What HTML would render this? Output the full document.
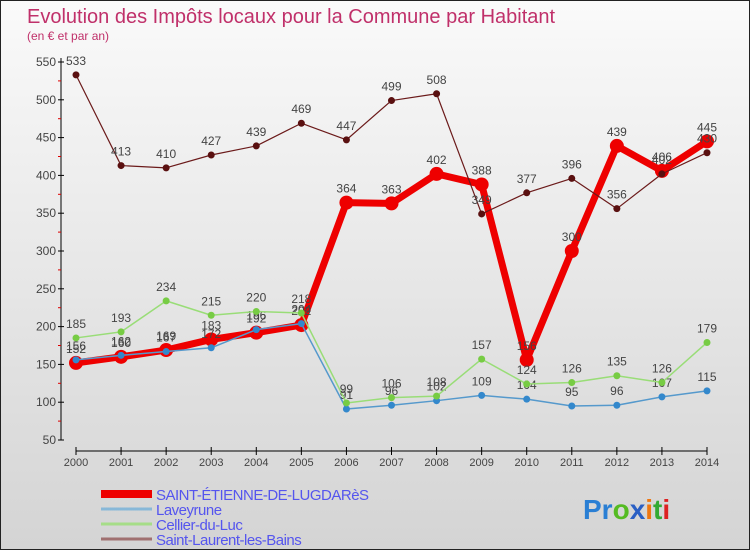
<!DOCTYPE html>
<html><head><meta charset="utf-8"><style>
body{margin:0;width:750px;height:550px;overflow:hidden;font-family:"Liberation Sans",sans-serif}
#wrap{position:absolute;left:0;top:0;width:748px;height:548px;border:1px solid #222;background:linear-gradient(#fafafa,#d4d4d4)}
</style></head><body>
<div id="wrap">
<svg id="c" width="750" height="550" style="position:absolute;left:0;top:0">
<text x="26" y="22" font-size="20" fill="#c0306a">Evolution des Impôts locaux pour la Commune par Habitant</text>
<text x="26" y="39" font-size="12" fill="#c0306a">(en € et par an)</text>
<g id="axes"></g><g id="series"></g><g id="legend"></g>
<text x="582" y="518" font-size="28" font-weight="bold"><tspan fill="#2a7fd4">Pr</tspan><tspan fill="#55bb22">o</tspan><tspan fill="#2a5fc4">x</tspan><tspan fill="#ee7711">i</tspan><tspan fill="#33aa33">t</tspan><tspan fill="#dd2222">i</tspan></text>
</svg></div>
<script>
const years=[2000,2001,2002,2003,2004,2005,2006,2007,2008,2009,2010,2011,2012,2013,2014];
const yTicks=[50,100,150,200,250,300,350,400,450,500,550];
const stEtienne=[152,160,169,183,192,202,364,363,402,388,156,300,439,406,445];
const laveyrune=[156,162,167,172,196,204,91,96,102,109,104,95,96,107,115];
const cellier=[185,193,234,215,220,218,99,106,108,157,124,126,135,126,179];
const stLaurent=[533,413,410,427,439,469,447,499,508,349,377,396,356,402,430];
const names=["SAINT-ÉTIENNE-DE-LUGDARèS","Laveyrune","Cellier-du-Luc","Saint-Laurent-les-Bains"];
const NS="http://www.w3.org/2000/svg";
const X=i=>75+i*(631/14), Y=v=>439-(v-50)*0.756;
function mk(tag,at,par){const e=document.createElementNS(NS,tag);for(const k in at)e.setAttribute(k,at[k]);par.appendChild(e);return e;}
const ax=document.getElementById('axes');
let e=mk('line',{x1:60,y1:57,x2:60,y2:439,stroke:'#000'},ax);


for(let v=75;v<550;v+=50){mk('line',{x1:57,x2:60,y1:Y(v),y2:Y(v),stroke:'#d00'},ax);}
yTicks.forEach(v=>{mk('line',{x1:57,x2:63,y1:Y(v),y2:Y(v),stroke:'#000'},ax);
 const t=mk('text',{x:55,y:Y(v)+4,'text-anchor':'end','font-size':12,fill:'#444'},ax);t.textContent=v;
 
 });
e=mk('line',{x1:75,y1:450,x2:706,y2:450,stroke:'#000'},ax);


years.forEach((y,i)=>{mk('line',{x1:X(i),x2:X(i),y1:446,y2:454,stroke:'#000'},ax);
 const t=mk('text',{x:X(i),y:465,'text-anchor':'middle','font-size':11,fill:'#444'},ax);t.textContent=y;
 
 });
const sg=document.getElementById('series');
const defs=[[stEtienne,'#ee0000',7,7,'#ee0000'],[laveyrune,'#5599cc',1.5,3.5,'#3388cc'],[cellier,'#99dd77',1.5,3.5,'#77cc44'],[stLaurent,'#6b1a1a',1.2,3.5,'#5a1010']];
const keys=['saint-etienne','laveyrune','cellier','saint-laurent'];
defs.forEach(([d,col,w,r,pc],k)=>{
 const g=mk('g',{},sg);
 
 
 mk('polyline',{points:d.map((v,i)=>X(i)+','+Y(v)).join(' '),fill:'none',stroke:col,'stroke-width':w,'stroke-linejoin':'round'},g);
 d.forEach((v,i)=>{const c=mk('circle',{cx:X(i),cy:Y(v),r:r,fill:pc},g);
  
  
  const t=mk('text',{x:X(i),y:Y(v)-10,'text-anchor':'middle','font-size':12,fill:'#444'},g);t.textContent=v;
  
  });
});
const lg=document.getElementById('legend');
const lc=['#ee0000','#88b8d8','#a6dd88','#a07070'],lw=[8,3,3,3];
names.forEach((n,i)=>{const y=493+i*15;
 const g=mk('g',{},lg);
 
 
 mk('line',{x1:100,x2:151,y1:y,y2:y,stroke:lc[i],'stroke-width':lw[i]},g);
 const t=mk('text',{x:155,y:y+6,'font-size':15,fill:'#5555ee','letter-spacing':'-0.5'},g);t.textContent=n;});
</script></body></html>
